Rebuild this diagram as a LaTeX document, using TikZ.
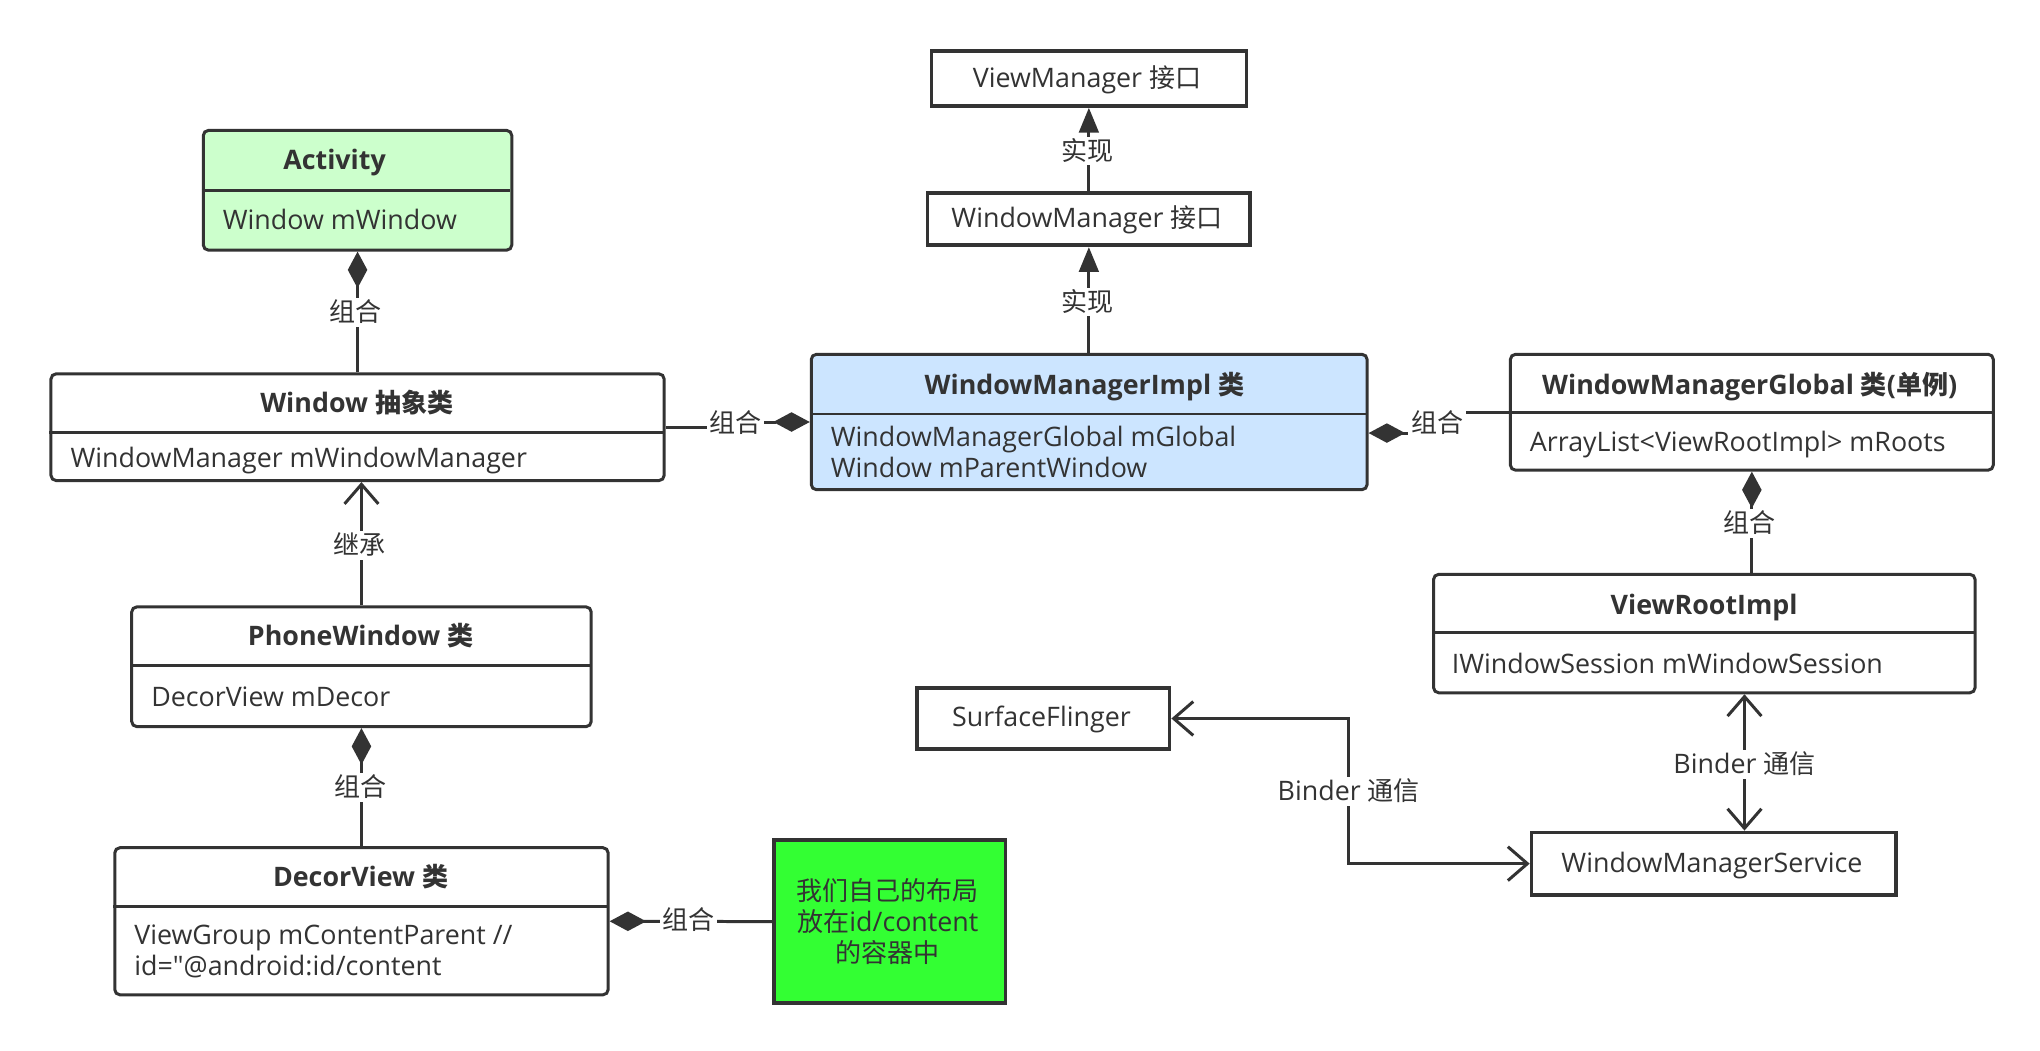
\documentclass[tikz,border=0pt]{standalone}
\usepackage{fontspec}
\setmainfont{Open Sans}[Scale=1.03, Ligatures=TeXOff]
\newfontfamily\cjk{Noto Sans CJK SC}
\usetikzlibrary{arrows.meta,calc}
\definecolor{lc}{HTML}{333333}
\definecolor{actfill}{HTML}{CCFFCC}
\definecolor{implfill}{HTML}{CCE5FF}
\definecolor{greenfill}{HTML}{33FF33}
\newcommand{\zh}[1]{{\cjk #1}}
\tikzset{
  tcol/.style={text=lc, font=\fontsize{20}{24}\selectfont},
  umlbox/.style={draw=lc, line width=2.3pt, rounded corners=4pt, inner sep=0pt, anchor=north west},
  plainbox/.style={draw=lc, line width=2.8pt, inner sep=0pt, anchor=north west},
  txt/.style={tcol, inner sep=0pt, text height=14pt, text depth=0pt},
  hdr/.style={txt, font=\fontsize{20}{24}\selectfont\bfseries},
  body/.style={tcol, inner sep=0pt, align=left, anchor=west},
  lbl/.style={txt, fill=white, inner xsep=2pt, inner ysep=4pt},
  ln/.style={draw=lc, line width=2.3pt},
  diaend/.style={arrows={-{Diamond[length=28pt,width=15pt]}}},
  diastart/.style={arrows={{Diamond[length=28pt,width=15pt]}-}},
  triend/.style={arrows={-{Triangle[length=19pt,width=15pt]}}},
  barbend/.style={arrows={-{Straight Barb[length=15pt,width=26pt]}}},
  barbboth/.style={arrows={{Straight Barb[length=15pt,width=26pt]}-{Straight Barb[length=15pt,width=26pt]}}},
}
\begin{document}
\begin{tikzpicture}[x=1pt,y=-1pt]
\useasboundingbox (0,0) rectangle (1567,806.7);
\fill[white] (0,0) rectangle (1567,806.7);

% Activity
\node[umlbox, fill=actfill, minimum width=237pt, minimum height=92pt] (act) at (155,99) {};
\draw[ln] (155,146) -- (392,146);
\node[hdr] (actH) at (257,123) {Activity};
\node[txt, anchor=west] (actB) at (171,169) {Window mWindow};

% Window
\node[umlbox, minimum width=471pt, minimum height=82pt] (win) at (38,286) {};
\draw[ln] (38,332) -- (509,332);
\node[hdr] (winH) at (274,310) {Window \zh{抽象类}};
\node[txt, anchor=west] (winB) at (54,352) {WindowManager mWindowManager};

% PhoneWindow
\node[umlbox, minimum width=353pt, minimum height=92pt] (pw) at (100,465) {};
\draw[ln] (100,511) -- (453,511);
\node[hdr] (pwH) at (277,489) {PhoneWindow \zh{类}};
\node[txt, anchor=west] (pwB) at (116,536) {DecorView mDecor};

% DecorView
\node[umlbox, minimum width=379pt, minimum height=113pt] (dv) at (87,650) {};
\draw[ln] (87,696) -- (466,696);
\node[hdr] (dvH) at (277,674) {DecorView \zh{类}};
\node[body] (dvB) at (103,731) {ViewGroup mContentParent //\\id="@android:id/content};

% green note
\node[plainbox, fill=greenfill, minimum width=178pt, minimum height=125pt] (gb) at (593,644) {};
\node[tcol, align=center, inner sep=0pt] (gbT) at (682,708) {\zh{我们自己的布局}\\\zh{放在}id/content\\\zh{的容器中}};

% ViewManager
\node[plainbox, minimum width=242pt, minimum height=42pt] (vm) at (714,38) {};
\node[txt] (vmT) at (835,60) {ViewManager \zh{接口}};
% WindowManager
\node[plainbox, minimum width=248pt, minimum height=40pt] (wm) at (711,147) {};
\node[txt] (wmT) at (835,168) {WindowManager \zh{接口}};
% WindowManagerImpl
\node[umlbox, fill=implfill, minimum width=427pt, minimum height=104pt] (impl) at (622,271) {};
\draw[ln] (622,318) -- (1049,318);
\node[hdr] (implH) at (833,296) {WindowManagerImpl \zh{类}};
\node[body] (implB) at (638,347) {WindowManagerGlobal mGlobal\\Window mParentWindow};
% WindowManagerGlobal
\node[umlbox, minimum width=371pt, minimum height=89pt] (glob) at (1159,271) {};
\draw[ln] (1159,317) -- (1530,317);
\node[hdr] (globH) at (1344,296) {WindowManagerGlobal \zh{类}(\zh{单例})};
\node[txt, anchor=west] (globB) at (1175,340) {ArrayList<ViewRootImpl> mRoots};
% ViewRootImpl
\node[umlbox, minimum width=416pt, minimum height=91pt] (vri) at (1100,440) {};
\draw[ln] (1100,486) -- (1516,486);
\node[hdr] (vriH) at (1309,465) {ViewRootImpl};
\node[txt, anchor=west] (vriB) at (1115,510) {IWindowSession mWindowSession};
% SurfaceFlinger
\node[plainbox, minimum width=194pt, minimum height=47pt] (sf) at (703,527) {};
\node[txt] (sfT) at (800,551) {SurfaceFlinger};
% WindowManagerService
\node[plainbox, minimum width=280pt, minimum height=48pt] (wms) at (1175,638) {};
\node[txt] (wmsT) at (1315,663) {WindowManagerService};

% connectors
\draw[ln, diaend] (win.north) -- (act.south);
\node[lbl] (lA) at (273,240) {\zh{组合}};
\draw[ln, barbend] (pw.north) -- (pw.north |- win.south);
\node[lbl] (lB) at (276,419) {\zh{继承}};
\draw[ln, diaend] (dv.north) -- (dv.north |- pw.south);
\node[lbl] (lC) at (277,605) {\zh{组合}};
\draw[ln, diaend] (gb.west) -- (dv.east);
\node[lbl] (lD) at (529,707) {\zh{组合}};
\node[lbl] (lE) at (565,325) {\zh{组合}};
\draw[ln] (win.east) -- (win.east -| lE.west);
\draw[ln, diaend] (lE.east |- impl.west) -- (impl.west);
\draw[ln, triend] (wm.south |- impl.north) -- (wm.south);
\node[lbl] (lF) at (835,232) {\zh{实现}};
\draw[ln, triend] (wm.north) -- (wm.north |- vm.south);
\node[lbl] (lG) at (835,116) {\zh{实现}};
\node[lbl, fill=none] (lH) at (1104,325) {\zh{组合}};
\coordinate (ie) at ($(impl.east)+(0,8.5)$);
\draw[ln, diastart] (ie) -- (ie -| lH.west);
\draw[ln] (lH.east |- glob.west) -- (glob.west);
\draw[ln, diaend] (vri.north -| glob.south) -- (glob.south);
\node[lbl] (lI) at (1344,402) {\zh{组合}};
\coordinate (bx) at (1340,587);
\draw[ln, barbboth] (bx |- vri.south) -- (bx |- wms.north);
\node[lbl] (lJ) at (1340,587) {Binder \zh{通信}};
\coordinate (bend) at (1036,608);
\draw[ln, barbboth] (sf.east) -| (bend) |- (wms.west);
\node[lbl] (lK) at (1036,608) {Binder \zh{通信}};
\end{tikzpicture}
\end{document}
